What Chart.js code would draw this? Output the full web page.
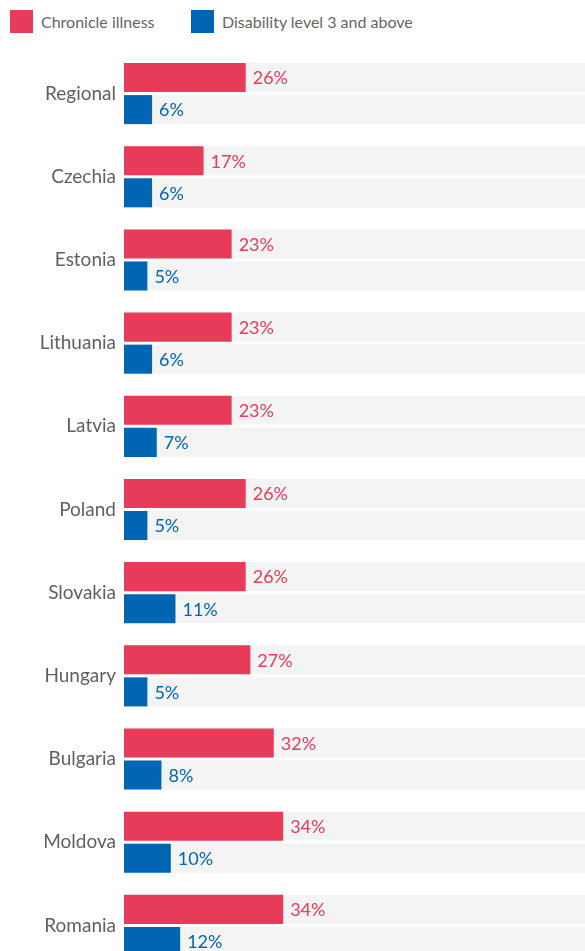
<!DOCTYPE html>
<html>
<head>
<meta charset="utf-8">
<script src="https://cdn.jsdelivr.net/npm/chart.js@4/dist/chart.umd.min.js"></script>
<style>
  html, body { margin: 0; padding: 0; background: #fff; overflow: hidden; }
  body { width: 585px; height: 951px; font-family: Lato, "Open Sans", sans-serif; }
  #legend { height: 45px; position: relative; }
  .item { position: absolute; top: 10px; height: 23px; line-height: 23px; font-size: 16px; color: #666; }
  .item span { display: inline-block; width: 23px; height: 23px; vertical-align: top; margin-right: 8px; }
  #wrap { width: 585px; height: 922px; position: relative; }
</style>
</head>
<body>
<div id="legend"></div>
<div id="wrap"><canvas id="chart"></canvas></div>
<script>
var categories = ['Regional', 'Czechia', 'Estonia', 'Lithuania', 'Latvia', 'Poland',
                  'Slovakia', 'Hungary', 'Bulgaria', 'Moldova', 'Romania'];
var seriesNames = ['Chronicle illness', 'Disability level 3 and above'];
var chronicIllness = [26, 17, 23, 23, 23, 26, 26, 27, 32, 34, 34];
var disability = [6, 6, 5, 6, 7, 5, 11, 5, 8, 10, 12];
var colors = ['#e83a59', '#0066b3'];
var legendLeft = [10, 191];

// legend above the canvas
var legend = document.getElementById('legend');
for (var i = 0; i < seriesNames.length; i++) {
  var item = document.createElement('div');
  item.className = 'item';
  item.style.left = legendLeft[i] + 'px';
  item.innerHTML = '<span style="background:' + colors[i] + '"></span>' + seriesNames[i];
  legend.appendChild(item);
}

// grey track behind every bar, full width of the chart area
var tracks = {
  id: 'tracks',
  beforeDatasetsDraw: function(chart) {
    var ctx = chart.ctx;
    var area = chart.chartArea;
    ctx.save();
    ctx.fillStyle = '#f4f4f4';
    chart.data.datasets.forEach(function(ds, di) {
      chart.getDatasetMeta(di).data.forEach(function(bar) {
        ctx.fillRect(area.left, bar.y - bar.height / 2, area.right - area.left, bar.height);
      });
    });
    ctx.restore();
  }
};

// value text just past the end of each bar
var valueLabels = {
  id: 'valueLabels',
  afterDatasetsDraw: function(chart) {
    var ctx = chart.ctx;
    ctx.save();
    ctx.font = '18px Lato, "Open Sans", sans-serif';
    ctx.textBaseline = 'middle';
    ctx.textAlign = 'left';
    chart.data.datasets.forEach(function(ds, di) {
      ctx.fillStyle = ds.backgroundColor;
      chart.getDatasetMeta(di).data.forEach(function(bar, i) {
        ctx.fillText(ds.data[i] + '%', bar.x + 7, bar.y + 1);
      });
    });
    ctx.restore();
  }
};

var ctx = document.getElementById('chart').getContext('2d');
new Chart(ctx, {
  type: 'bar',
  data: {
    labels: categories,
    datasets: [
      { label: seriesNames[0], data: chronicIllness, backgroundColor: colors[0] },
      { label: seriesNames[1], data: disability, backgroundColor: colors[1] }
    ]
  },
  options: {
    indexAxis: 'y',
    responsive: true,
    maintainAspectRatio: false,
    animation: false,
    layout: { padding: { top: 7, left: 0, right: 0, bottom: 0 } },
    datasets: { bar: { categoryPercentage: 0.771, barPercentage: 0.906 } },
    plugins: { legend: { display: false }, tooltip: { enabled: false } },
    scales: {
      x: { display: false, min: 0, max: 98.5 },
      y: {
        grid: { display: false, drawTicks: false },
        border: { display: false },
        afterFit: function(scale) {
          scale.width = 124;
          scale.paddingTop = 0;
          scale.paddingBottom = 0;
        },
        ticks: {
          padding: 8,
          color: '#606060',
          font: { family: 'Lato, "Open Sans", sans-serif', size: 19 }
        }
      }
    }
  },
  plugins: [tracks, valueLabels]
});
</script>
</body>
</html>
